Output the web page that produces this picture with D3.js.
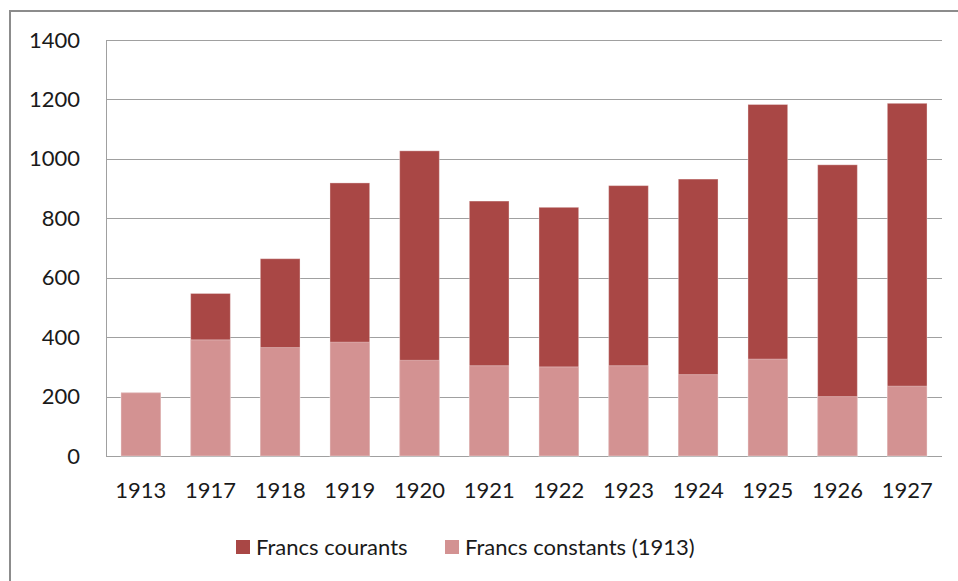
<!DOCTYPE html>
<html>
<head>
<meta charset="utf-8">
<script src="https://cdn.jsdelivr.net/npm/d3@7"></script>
<style>
  body { margin: 0; background: #fff; }
  svg text { font-family: Lato, "Open Sans", sans-serif; fill: #1a1a1a; }
</style>
</head>
<body>
<div id="chart"></div>
<script>
// years on the x axis
var years = ["1913", "1917", "1918", "1919", "1920", "1921", "1922", "1923", "1924", "1925", "1926", "1927"];
// francs courants (dark bars)
var courants = [213, 547, 664, 919, 1027, 858, 837, 910, 932, 1183, 980, 1187];
// francs constants 1913 (light bars, drawn in front)
var constants = [213, 391, 365, 383, 322, 304, 300, 304, 274, 326, 200, 235];
var yTicks = [0, 200, 400, 600, 800, 1000, 1200, 1400];
var seriesNames = ["Francs courants", "Francs constants (1913)"];
var colors = ["#A94745", "#D39292"];

var W = 958, H = 581;
var svg = d3.select("#chart").append("svg").attr("width", W).attr("height", H);

// outer frame of the chart area
svg.append("rect")
  .attr("x", 10).attr("y", 11)
  .attr("width", 960).attr("height", 600)
  .attr("fill", "none").attr("stroke", "#8c8c8c").attr("stroke-width", 2);

var x = d3.scaleBand().domain(years).range([106, 942]).paddingInner(0.43).paddingOuter(0.215);
var y = d3.scaleLinear().domain([0, 1400]).range([456, 40]);

// gridlines
svg.append("g")
  .selectAll("line").data(yTicks).enter().append("line")
  .attr("x1", 106).attr("x2", 942)
  .attr("y1", function(d) { return Math.round(y(d)) + 0.5; })
  .attr("y2", function(d) { return Math.round(y(d)) + 0.5; })
  .attr("stroke", "#a0a0a0").attr("stroke-width", 1);

// left axis line
svg.append("line")
  .attr("x1", 106.5).attr("x2", 106.5)
  .attr("y1", y(1400)).attr("y2", y(0))
  .attr("stroke", "#a0a0a0");

// y tick labels
var yAxis = d3.axisLeft(y).tickValues(yTicks).tickFormat(d3.format("d")).tickSize(0).tickPadding(26);
var gy = svg.append("g").attr("transform", "translate(106,0)").call(yAxis);
gy.select(".domain").remove();
gy.selectAll("text").style("font-size", "22px").style("font-family", "Lato, 'Open Sans', sans-serif").attr("fill", "#1a1a1a");

// x tick labels
var xAxis = d3.axisBottom(x).tickSize(0).tickPadding(26);
var gx = svg.append("g").attr("transform", "translate(0,456)").call(xAxis);
gx.select(".domain").remove();
gx.selectAll("text").style("font-size", "22px").style("font-family", "Lato, 'Open Sans', sans-serif").attr("fill", "#1a1a1a");

// bars: courants behind, constants in front
var bars = [courants, constants];
bars.forEach(function(vals, k) {
  svg.append("g").selectAll("rect")
    .data(vals).enter().append("rect")
    .attr("x", function(d, i) { return x(years[i]); })
    .attr("y", function(d) { return y(d); })
    .attr("width", x.bandwidth())
    .attr("height", function(d) { return y(0) - y(d); })
    .attr("fill", colors[k])
    .attr("stroke", "rgba(255,255,255,0.35)")
    .attr("stroke-width", 1);
});

// legend
var legX = [236, 445];
var leg = svg.append("g");
seriesNames.forEach(function(name, k) {
  leg.append("rect")
    .attr("x", legX[k]).attr("y", 540)
    .attr("width", 14).attr("height", 14)
    .attr("fill", colors[k]);
  leg.append("text")
    .attr("x", legX[k] + 20).attr("y", 555)
    .style("font-size", "22px")
    .text(name);
});
</script>
</body>
</html>
